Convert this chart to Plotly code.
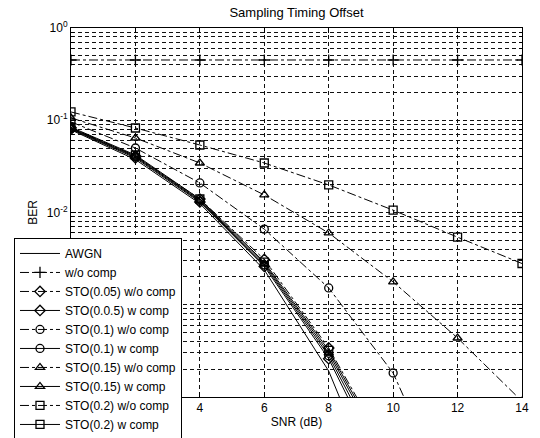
import plotly.graph_objects as go

# ---------------- data ----------------
snr = [0, 2, 4, 6, 8, 10, 12, 14]

ber_awgn      = [0.0786, 0.0375, 0.0125, 0.00239, 0.000191, 3.9e-06, None, None]
ber_no_comp   = [0.45, 0.45, 0.45, 0.45, 0.45, 0.45, 0.45, 0.45]
ber_sto005_wo = [0.083, 0.041, 0.0140, 0.0031, 0.00034, 2.0e-05, None, None]
ber_sto005_w  = [0.080, 0.039, 0.0130, 0.0026, 0.00026, 1.0e-05, None, None]
ber_sto01_wo  = [0.096, 0.050, 0.0209, 0.0066, 0.00152, 0.000182, 5e-06, None]
ber_sto01_w   = [0.081, 0.040, 0.0133, 0.0027, 0.00028, 1.3e-05, None, None]
ber_sto015_wo = [0.106, 0.0642, 0.0344, 0.0155, 0.0060, 0.00177, 0.000436, 9e-05]
ber_sto015_w  = [0.082, 0.041, 0.0136, 0.0028, 0.00030, 1.6e-05, None, None]
ber_sto02_wo  = [0.123, 0.0824, 0.0539, 0.0344, 0.0199, 0.0106, 0.0054, 0.0028]
ber_sto02_w   = [0.084, 0.042, 0.0140, 0.0029, 0.00032, 1.8e-05, None, None]

series_names = [
    "AWGN", "w/o comp",
    "STO(0.05) w/o comp", "STO(0.0.5) w comp",
    "STO(0.1) w/o comp", "STO(0.1) w comp",
    "STO(0.15) w/o comp", "STO(0.15) w comp",
    "STO(0.2) w/o comp", "STO(0.2) w comp",
]
series_values = [
    ber_awgn, ber_no_comp,
    ber_sto005_wo, ber_sto005_w,
    ber_sto01_wo, ber_sto01_w,
    ber_sto015_wo, ber_sto015_w,
    ber_sto02_wo, ber_sto02_w,
]

x_ticks = [0, 2, 4, 6, 8, 10, 12, 14]
y_tick_vals = [1e-4, 1e-3, 1e-2, 1e-1, 1]
y_tick_text = ["10<sup>-4</sup>", "10<sup>-3</sup>", "10<sup>-2</sup>",
               "10<sup>-1</sup>", "10<sup>0</sup>"]

# ---------------- styles ----------------
styles = [
    dict(dash="solid", symbol=None),
    dict(dash="dashdot", symbol="cross-thin"),
    dict(dash="dashdot", symbol="diamond-open"),
    dict(dash="solid", symbol="diamond-open"),
    dict(dash="dashdot", symbol="circle-open"),
    dict(dash="solid", symbol="circle-open"),
    dict(dash="dashdot", symbol="triangle-up-open"),
    dict(dash="solid", symbol="triangle-up-open"),
    dict(dash="dashdot", symbol="square-open"),
    dict(dash="solid", symbol="square-open"),
]

FONT = "Liberation Sans, Arial, sans-serif"
fig = go.Figure()
for name, vals, st in zip(series_names, series_values, styles):
    if st["symbol"] is None:
        fig.add_trace(go.Scatter(
            x=snr, y=vals, name=name, mode="lines",
            line=dict(color="black", width=1, dash=st["dash"]),
        ))
    else:
        fig.add_trace(go.Scatter(
            x=snr, y=vals, name=name, mode="lines+markers",
            line=dict(color="black", width=1, dash=st["dash"]),
            marker=dict(symbol=st["symbol"], size=8, color="black",
                        line=dict(color="black", width=1.3)),
        ))

minor_vals = [m * 10 ** e for e in range(-4, 0) for m in range(2, 10)]

fig.update_layout(
    width=540, height=438,
    margin=dict(l=71, r=18, t=28, b=41, autoexpand=False),
    paper_bgcolor="white", plot_bgcolor="white",
    font=dict(family=FONT, size=12, color="black"),
    title=dict(text="Sampling Timing Offset", x=0.5, xref="paper",
               xanchor="center", y=0.972, yref="container", yanchor="middle",
               font=dict(size=13, color="black")),
    showlegend=True,
    legend=dict(
        x=-0.1264, y=0.431, xanchor="left", yanchor="top",
        xref="paper", yref="paper",
        bgcolor="white", bordercolor="black", borderwidth=1,
        font=dict(size=12, color="black", family=FONT),
        itemwidth=40, tracegroupgap=0,
    ),
)

fig.update_xaxes(
    range=[0, 14], tickmode="array", tickvals=x_ticks,
    showline=True, linecolor="black", linewidth=1, mirror="ticks",
    ticks="inside", ticklen=5, tickcolor="black",
    showgrid=True, gridcolor="#111111", gridwidth=1, griddash="4px,3px",
    zeroline=False,
    tickfont=dict(size=12),
    title=dict(text="SNR (dB)", font=dict(size=12), standoff=3),
)
fig.update_yaxes(
    type="log", range=[-4, 0],
    tickmode="array", tickvals=y_tick_vals, ticktext=y_tick_text,
    showline=True, linecolor="black", linewidth=1, mirror="ticks",
    ticks="inside", ticklen=5, tickcolor="black",
    showgrid=True, gridcolor="#111111", gridwidth=1, griddash="4px,3px",
    minor=dict(tickmode="array", tickvals=minor_vals, showgrid=True,
               gridcolor="#111111", gridwidth=1, griddash="4px,3px",
               ticks="inside", ticklen=3, tickcolor="black"),
    zeroline=False,
    tickfont=dict(size=12),
    title=dict(text="BER", font=dict(size=12), standoff=6),
)

fig.write_html("out.html")
